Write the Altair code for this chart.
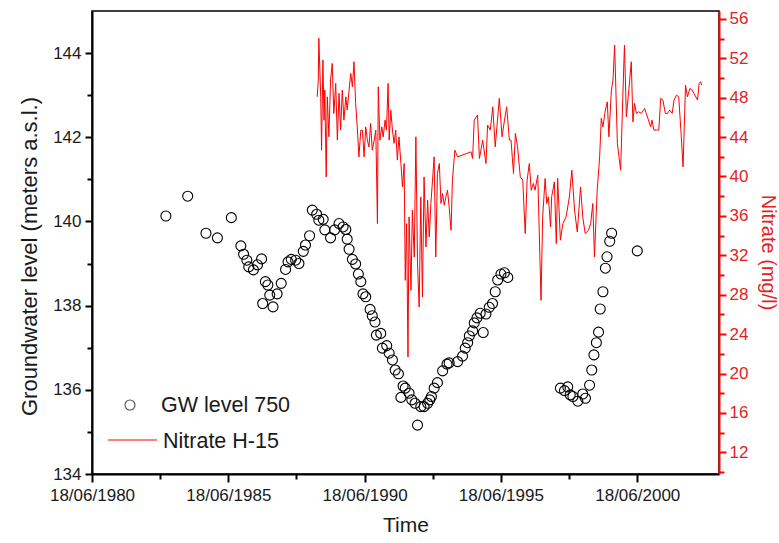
import altair as alt
import pandas as pd

# ---------------- data ----------------
gw_year = [1983.17, 1983.97, 1984.64, 1985.06, 1985.57, 1985.92, 1986.02, 1986.14, 1986.21, 1986.38,
           1986.53, 1986.68, 1986.72, 1986.82, 1986.91, 1986.98, 1987.10, 1987.25, 1987.40, 1987.56,
           1987.65, 1987.77, 1987.93, 1988.05, 1988.21, 1988.29, 1988.44, 1988.54, 1988.70, 1988.78,
           1988.94, 1989.00, 1989.21, 1989.36, 1989.52, 1989.67, 1989.77, 1989.82, 1989.89, 1990.01,
           1990.13, 1990.23, 1990.32, 1990.40, 1990.50, 1990.66, 1990.74, 1990.84, 1990.89, 1991.05,
           1991.11, 1991.27, 1991.36, 1991.48, 1991.58, 1991.70, 1991.79, 1991.87, 1991.95, 1992.09,
           1992.19, 1992.31, 1992.40, 1992.52, 1992.64, 1992.77, 1992.85, 1992.91, 1993.01, 1993.13,
           1993.32, 1993.48, 1993.56, 1993.87, 1994.05, 1994.15, 1994.24, 1994.30, 1994.42, 1994.48,
           1994.58, 1994.70, 1994.81, 1994.91, 1995.03, 1995.15, 1995.25, 1995.34, 1995.46, 1995.59,
           1995.71, 1997.64, 1997.79, 1997.91, 1998.00, 1998.10, 1998.28, 1998.46, 1998.56, 1998.71,
           1998.79, 1998.87, 1998.96, 1999.04, 1999.10, 1999.20, 1999.29, 1999.35, 1999.45, 1999.52,
           2000.46]
gw_level = [140.13, 140.60, 139.72, 139.61, 140.09, 139.42, 139.22, 139.08, 138.92, 138.85,
            138.97, 139.11, 138.05, 138.57, 138.49, 138.25, 137.97, 138.28, 138.53, 138.86,
            139.04, 139.10, 139.08, 139.00, 139.29, 139.44, 139.66, 140.27, 140.17, 140.03,
            140.05, 139.80, 139.61, 139.80, 139.95, 139.87, 139.81, 139.58, 139.34, 139.10,
            138.99, 138.75, 138.57, 138.28, 138.21, 137.91, 137.76, 137.61, 137.30, 137.34,
            136.99, 137.05, 136.87, 136.71, 136.47, 136.38, 135.82, 136.09, 136.04, 135.92,
            135.76, 135.68, 135.16, 135.60, 135.60, 135.68, 135.76, 135.84, 136.04, 136.17,
            136.45, 136.61, 136.64, 136.67, 136.80, 136.99, 137.12, 137.28, 137.40, 137.59,
            137.71, 137.82, 137.36, 137.80, 137.96, 138.05, 138.33, 138.61, 138.75, 138.78,
            138.67, 136.04, 135.98, 136.07, 135.88, 135.84, 135.73, 135.90, 135.80, 136.11,
            136.47, 136.83, 137.12, 137.37, 137.92, 138.33, 138.89, 139.16, 139.53, 139.72,
            139.30]

no3_year = [1988.72, 1988.76, 1988.78, 1988.85, 1988.88, 1988.93, 1988.97, 1989.00, 1989.05, 1989.09,
            1989.15, 1989.21, 1989.27, 1989.33, 1989.40, 1989.46, 1989.52, 1989.58, 1989.64, 1989.70,
            1989.77, 1989.82, 1989.89, 1989.95, 1990.01, 1990.07, 1990.13, 1990.19, 1990.25, 1990.32,
            1990.38, 1990.44, 1990.50, 1990.56, 1990.62, 1990.68, 1990.74, 1990.81, 1990.87, 1990.93,
            1990.96, 1991.02, 1991.09, 1991.14, 1991.21, 1991.26, 1991.32, 1991.36, 1991.42, 1991.48,
            1991.54, 1991.60, 1991.66, 1991.72, 1991.79, 1991.85, 1991.91, 1991.95, 1992.00, 1992.05,
            1992.09, 1992.16, 1992.21, 1992.28, 1992.34, 1992.40, 1992.46, 1992.52, 1992.58, 1992.64,
            1992.71, 1992.77, 1992.83, 1992.89, 1992.95, 1993.01, 1993.07, 1993.13, 1993.20, 1993.26,
            1993.32, 1993.38, 1993.44, 1993.50, 1993.56, 1993.63, 1993.68, 1993.77, 1993.87, 1994.36,
            1994.42, 1994.48, 1994.60, 1994.67, 1994.79, 1994.91, 1994.97, 1995.07, 1995.16, 1995.25,
            1995.40, 1995.50, 1995.59, 1995.67, 1995.77, 1995.83, 1995.92, 1995.99, 1996.07, 1996.17,
            1996.26, 1996.35, 1996.42, 1996.50, 1996.57, 1996.65, 1996.71, 1996.81, 1996.87, 1996.93,
            1996.99, 1997.08, 1997.14, 1997.20, 1997.28, 1997.32, 1997.42, 1997.49, 1997.54, 1997.64,
            1997.73, 1997.85, 1997.97, 1998.06, 1998.16, 1998.26, 1998.38, 1998.46, 1998.55, 1998.67,
            1998.75, 1998.83, 1998.89, 1998.99, 1999.08, 1999.14, 1999.20, 1999.29, 1999.36, 1999.42,
            1999.51, 1999.57, 1999.63, 1999.73, 1999.85, 1999.93, 1999.99, 2000.06, 2000.15, 2000.24,
            2000.30, 2000.36, 2000.43, 2000.51, 2000.61, 2000.73, 2000.79, 2000.85, 2000.95, 2001.00,
            2001.07, 2001.16, 2001.25, 2001.32, 2001.40, 2001.49, 2001.57, 2001.65, 2001.74, 2001.81,
            2001.90, 2001.98, 2002.06, 2002.14, 2002.23, 2002.30, 2002.39, 2002.47, 2002.54, 2002.67,
            2002.73, 2002.78, 2002.82]
no3_value = [48.09, 49.79, 54.03, 48.09, 42.67, 51.82, 45.72, 48.77, 39.96, 48.09,
             44.03, 49.79, 51.48, 46.40, 49.45, 43.69, 48.44, 44.71, 48.77, 45.72,
             48.09, 46.74, 48.77, 50.47, 49.11, 51.65, 47.42, 45.04, 41.99, 44.71,
             44.71, 41.99, 45.04, 43.69, 43.01, 45.39, 42.67, 43.69, 44.71, 35.22,
             49.11, 43.69, 45.04, 44.03, 45.72, 44.71, 49.45, 43.69, 46.74, 44.71,
             43.36, 44.71, 41.66, 44.03, 41.32, 38.94, 41.32, 29.46, 35.22, 21.67,
             35.90, 28.45, 36.58, 31.83, 44.03, 31.16, 26.75, 37.93, 27.77, 39.96,
             32.85, 37.59, 33.86, 37.26, 39.63, 41.99, 31.83, 40.31, 41.32, 37.26,
             38.27, 37.08, 37.93, 38.61, 36.91, 34.54, 39.63, 42.67, 41.99, 42.50,
             41.83, 45.72, 46.23, 41.83, 43.69, 41.32, 45.21, 44.71, 47.07, 43.01,
             47.93, 44.03, 45.72, 47.07, 43.69, 43.69, 40.31, 44.37, 43.01, 39.96,
             39.63, 34.21, 39.63, 41.32, 38.61, 39.29, 38.61, 40.13, 33.86, 27.43,
             35.90, 39.80, 37.26, 37.93, 34.88, 37.93, 39.45, 33.19, 39.80, 33.53,
             35.22, 35.90, 37.93, 40.64, 36.58, 34.37, 38.94, 35.90, 34.21, 34.54,
             35.22, 37.26, 31.83, 38.61, 41.99, 45.90, 45.04, 46.74, 47.58, 44.03,
             48.77, 49.79, 53.34, 43.36, 40.64, 48.09, 53.34, 46.06, 48.77, 51.65,
             45.55, 47.42, 46.40, 46.57, 46.40, 46.91, 46.40, 45.90, 45.04, 45.72,
             44.71, 44.71, 44.71, 47.93, 47.76, 46.40, 46.40, 46.74, 46.40, 47.76,
             48.26, 48.09, 44.71, 40.98, 49.28, 48.09, 48.94, 48.77, 48.44, 47.76,
             49.45, 49.62, 49.28]

x_tick_dates = ["1980-06-18", "1985-06-18", "1990-06-18", "1995-06-18", "2000-06-18"]
x_minor_dates = ["1982-12-18", "1987-12-18", "1992-12-18", "1997-12-18"]
x_domain_dates = ["1980-06-18", "2003-06-18"]
gw_ticks = [134, 136, 138, 140, 142, 144]
gw_minor = [135, 137, 139, 141, 143]
gw_domain = [134, 145]
no3_ticks = [12, 16, 20, 24, 28, 32, 36, 40, 44, 48, 52, 56]
no3_minor = [10, 14, 18, 22, 26, 30, 34, 38, 42, 46, 50, 54]
no3_domain = [9.8, 56.8]
legend_labels = ["GW level 750", "Nitrate H-15"]

# ---------------- helpers ----------------
REF_DATE = pd.Timestamp("1980-06-18")
REF_YEAR = 1980.46


def to_date(y):
    return (REF_DATE + pd.Timedelta(days=(y - REF_YEAR) * 365.25)).strftime("%Y-%m-%dT%H:%M:%S")


def dt(s):
    yy, mm, dd = (int(p) for p in s.split("-"))
    return alt.DateTime(year=yy, month=mm, date=dd)


gw_df = pd.DataFrame({"date": [to_date(y) for y in gw_year], "level": gw_level})
no3_df = pd.DataFrame({"date": [to_date(y) for y in no3_year], "value": no3_value})

FONT = "Liberation Sans"
RED = "#ff0000"
RED_TXT = "#e31e24"
INK = "#1a1a1a"

xscale = alt.Scale(domain=[dt(s) for s in x_domain_dates])
gw_scale = alt.Scale(domain=gw_domain, nice=False, zero=False)
no3_scale = alt.Scale(domain=no3_domain, nice=False, zero=False)

x_main_axis = alt.Axis(
    orient="bottom", values=[dt(s) for s in x_tick_dates], format="%d/%m/%Y",
    title="Time", grid=False, tickSize=8, tickWidth=2, tickColor="black",
    domainColor="black", domainWidth=2, labelFont=FONT, labelFontSize=17,
    labelColor=INK, labelPadding=5, labelFlush=False, labelOverlap=False,
    titleFont=FONT, titleFontSize=21, titleFontWeight="normal", titleColor=INK,
    titlePadding=11,
)
x_minor_axis = alt.Axis(
    orient="bottom", values=[dt(s) for s in x_minor_dates], labels=False,
    domain=False, grid=False, tickSize=5, tickWidth=2, tickColor="black", title="",
)

gw = alt.Chart(gw_df).mark_point(
    shape="circle", filled=False, size=100, color="black", strokeWidth=1.1, opacity=1
).encode(
    x=alt.X("date:T", scale=xscale, axis=x_main_axis),
    y=alt.Y("level:Q", scale=gw_scale, axis=alt.Axis(
        orient="left", values=gw_ticks, title="Groundwater level (meters a.s.l.)",
        grid=False, tickSize=7, tickWidth=2, tickColor="black", domainColor="black",
        domainWidth=2, labelFont=FONT, labelFontSize=17, labelColor=INK, labelPadding=4,
        titleFont=FONT, titleFontSize=22, titleFontWeight="normal", titleColor=INK,
        titlePadding=11, titleY=245)),
)

gw_minor_layer = alt.Chart(gw_df).mark_point(opacity=0).encode(
    x=alt.X("date:T", scale=xscale, axis=x_minor_axis),
    y=alt.Y("level:Q", scale=gw_scale, axis=alt.Axis(
        orient="left", values=gw_minor, labels=False, domain=False, grid=False,
        tickSize=5, tickWidth=2, tickColor="black", title="")),
)

no3 = alt.Chart(no3_df).mark_line(color=RED, strokeWidth=1).encode(
    x=alt.X("date:T", scale=xscale, axis=None),
    y=alt.Y("value:Q", scale=no3_scale, axis=alt.Axis(
        orient="right", values=no3_ticks, title="Nitrate (mg/l)", grid=False,
        tickSize=7, tickWidth=2, tickColor=RED, domainColor=RED, domainWidth=2,
        labelFont=FONT, labelFontSize=17, labelColor=RED_TXT, labelPadding=3,
        titleFont=FONT, titleFontSize=20, titleFontWeight="normal", titleColor=RED_TXT,
        titlePadding=10, titleY=241)),
)

no3_minor_layer = alt.Chart(no3_df).mark_point(opacity=0).encode(
    x=alt.X("date:T", scale=xscale, axis=None),
    y=alt.Y("value:Q", scale=no3_scale, axis=alt.Axis(
        orient="right", values=no3_minor, labels=False, domain=False, grid=False,
        tickSize=5, tickWidth=2, tickColor=RED, title="")),
)

# ---------------- legend (drawn inside the plot, lower left) ----------------
leg1 = pd.DataFrame({"label": [legend_labels[0]]})
leg2 = pd.DataFrame({"label": [legend_labels[1]]})
leg_sym = alt.Chart(leg1).mark_point(
    shape="circle", filled=False, size=100, color="black", strokeWidth=1.1
).encode(x=alt.value(38), y=alt.value(394))
leg_txt1 = alt.Chart(leg1).mark_text(
    align="left", baseline="alphabetic", font=FONT, fontSize=21.5, color=INK
).encode(x=alt.value(69), y=alt.value(401), text="label:N")
leg_line = alt.Chart(leg2).mark_rule(color=RED, strokeWidth=1).encode(
    x=alt.value(16), x2=alt.value(65), y=alt.value(429))
leg_txt2 = alt.Chart(leg2).mark_text(
    align="left", baseline="alphabetic", font=FONT, fontSize=21.5, color=INK
).encode(x=alt.value(71), y=alt.value(437), text="label:N")

chart = alt.layer(
    gw_minor_layer, no3_minor_layer, no3, gw, leg_sym, leg_txt1, leg_line, leg_txt2
).resolve_scale(y="independent").resolve_axis(x="independent").properties(
    width=627, height=463,
    autosize=alt.AutoSizeParams(type="none"),
    padding={"left": 92, "top": 11, "right": 60, "bottom": 69},
    background="white",
).configure_view(stroke="black", strokeWidth=1.5)

chart.save("out.html", embed_options={"renderer": "svg", "actions": False})
